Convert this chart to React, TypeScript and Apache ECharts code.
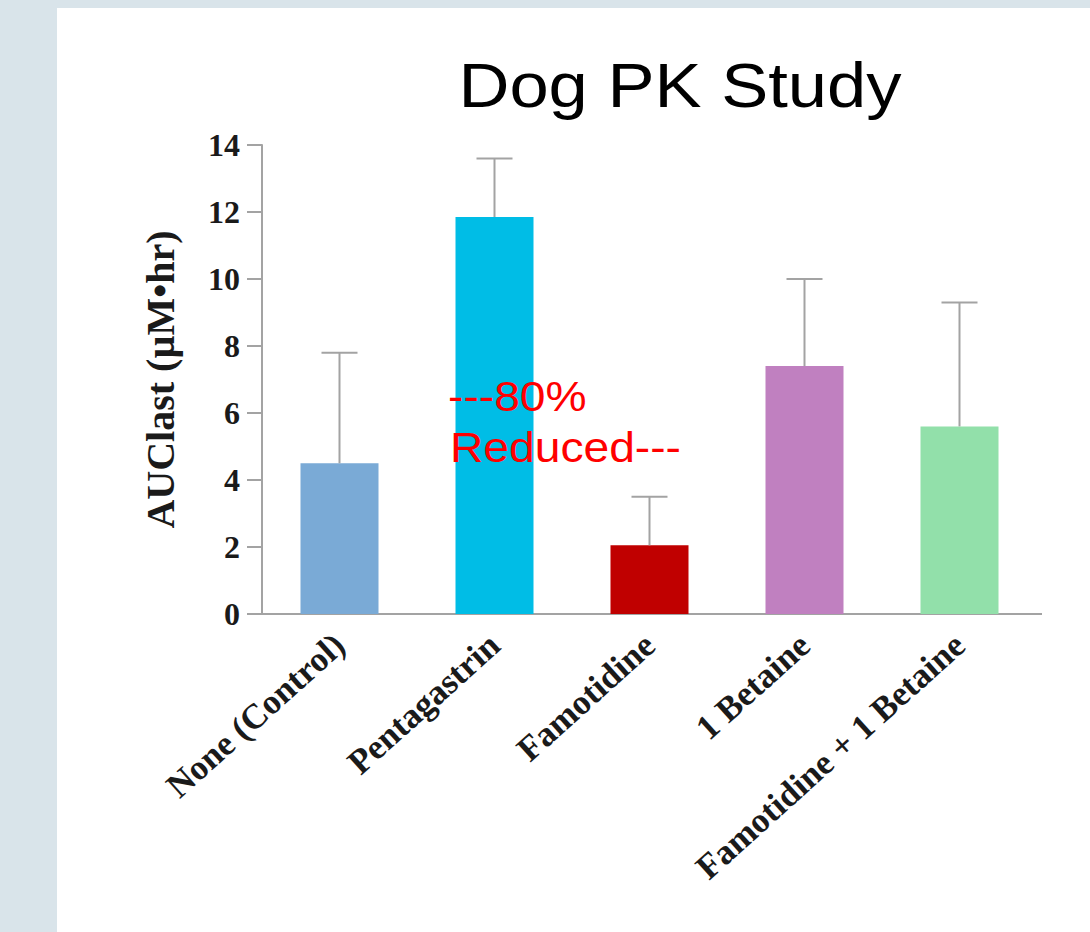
import React, { useEffect, useRef } from "react";
import * as echarts from "echarts";

const categories = ["None (Control)", "Pentagastrin", "Famotidine", "1 Betaine", "Famotidine + 1 Betaine"];
const means = [4.5, 11.85, 2.05, 7.4, 5.6];
const upperErrors = [7.8, 13.6, 3.5, 10.0, 9.3];
const barColors = ["#7aaad6", "#00bde6", "#c00000", "#c080c0", "#92e0aa"];
const yMin = 0;
const yMax = 14;
const yInterval = 2;
const titleText = "Dog PK Study";
const yAxisTitle = "AUClast (\u00b5M\u2022hr)";
const annotationLines = ["---80%", "Reduced---"];

export default function App() {
  const ref = useRef<HTMLDivElement>(null);

  useEffect(() => {
    if (!ref.current) return;
    const chart = echarts.init(ref.current, null, { renderer: "svg" });
    const axisGray = "#a3a3a3";
    const serif = "'Liberation Serif', 'Times New Roman', serif";
    const sans = "'Liberation Sans', Arial, sans-serif";

    chart.setOption({
      animation: false,
      backgroundColor: "#d9e4ea",
      grid: { left: 262, right: 53, top: 145, bottom: 318, containLabel: false },
      graphic: [
        { type: "rect", z: -10, shape: { x: 57, y: 8, width: 1040, height: 930 }, style: { fill: "#ffffff" } },
        { type: "line", z: 1, shape: { x1: 1036, y1: 614, x2: 1042, y2: 614 }, style: { stroke: "#a3a3a3", lineWidth: 2 } },
        {
          type: "text", x: 680, y: 85, scaleX: 1.12, z: 10,
          style: { text: titleText, fontFamily: sans, fontSize: 63, fill: "#000", align: "center", verticalAlign: "middle" },
        },
        {
          type: "text", x: 448, y: 396, scaleX: 1.1, z: 10,
          style: { text: annotationLines[0], fontFamily: sans, fontSize: 42, fill: "#ff0000", align: "left", verticalAlign: "middle" },
        },
        {
          type: "text", x: 450, y: 447, scaleX: 1.1, z: 10,
          style: { text: annotationLines[1], fontFamily: sans, fontSize: 42, fill: "#ff0000", align: "left", verticalAlign: "middle" },
        },
      ],
      xAxis: {
        type: "category",
        data: categories,
        axisLine: { show: true, lineStyle: { color: axisGray, width: 2 } },
        axisTick: { show: false },
        axisLabel: {
          rotate: 42, margin: 26, interval: 0,
          fontFamily: serif, fontWeight: "bold", fontSize: 35, color: "#1a1a1a",
        },
        splitLine: { show: false },
      },
      yAxis: {
        type: "value",
        min: yMin, max: yMax, interval: yInterval,
        name: yAxisTitle,
        nameLocation: "middle",
        nameRotate: 90,
        nameGap: 82,
        nameTextStyle: { fontFamily: serif, fontWeight: "bold", fontSize: 40, color: "#1a1a1a" },
        axisLine: { show: true, lineStyle: { color: axisGray, width: 2 } },
        axisTick: { show: true, length: 15, lineStyle: { color: axisGray, width: 2 } },
        axisLabel: { margin: 22, fontFamily: serif, fontWeight: "bold", fontSize: 32, color: "#1a1a1a" },
        splitLine: { show: false },
      },
      series: [
        {
          type: "bar",
          barWidth: 78,
          data: means.map((v, i) => ({ value: v, itemStyle: { color: barColors[i] } })),
          z: 2,
        },
        {
          type: "custom",
          z: 3,
          data: categories.map((_, i) => [i, means[i], upperErrors[i]]),
          renderItem: (params: any, api: any) => {
            const idx = api.value(0);
            const lo = api.coord([idx, api.value(1)]);
            const hi = api.coord([idx, api.value(2)]);
            const half = 18;
            const style = { stroke: axisGray, lineWidth: 2 };
            return {
              type: "group",
              children: [
                { type: "line", shape: { x1: lo[0], y1: lo[1], x2: hi[0], y2: hi[1] }, style },
                { type: "line", shape: { x1: hi[0] - half, y1: hi[1], x2: hi[0] + half, y2: hi[1] }, style },
              ],
            };
          },
        },
      ],
    });

    return () => chart.dispose();
  }, []);

  return <div ref={ref} style={{ position: "absolute", left: 0, top: 0, width: 1090, height: 932 }} />;
}
